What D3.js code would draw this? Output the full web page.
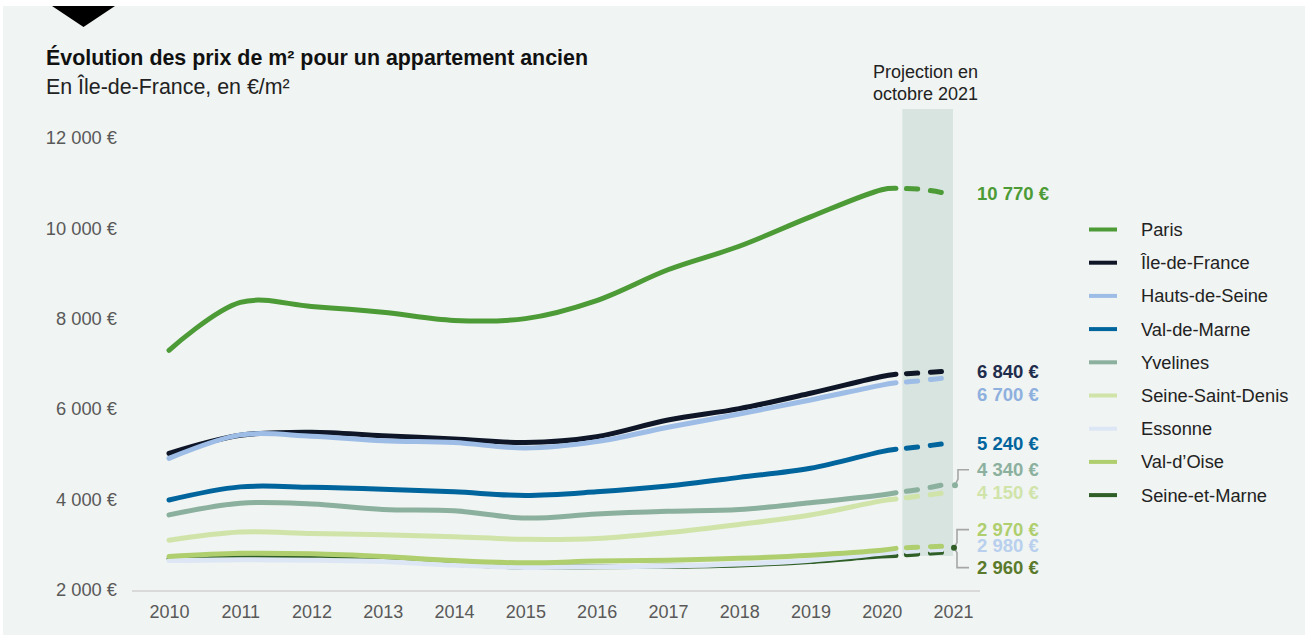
<!DOCTYPE html>
<html><head><meta charset="utf-8">
<script src="https://cdn.jsdelivr.net/npm/d3@7"></script>
<style>
html,body{margin:0;padding:0;background:#fff;}
svg{display:block;font-family:"Liberation Sans",Arial,sans-serif;}
</style></head>
<body>
<svg id="chart" width="1305" height="635"></svg>
<script>
// ---------- DATA ----------
const years = [2010, 2011, 2012, 2013, 2014, 2015, 2016, 2017, 2018, 2019, 2020];
const projYears = [2020.2, 2020.55, 2020.9];
const tickYears = [2010, 2011, 2012, 2013, 2014, 2015, 2016, 2017, 2018, 2019, 2020, 2021];
const yTicks = [2000, 4000, 6000, 8000, 10000, 12000];

const seriesNames = ["Paris", "Île-de-France", "Hauts-de-Seine", "Val-de-Marne", "Yvelines",
  "Seine-Saint-Denis", "Essonne", "Val-d’Oise", "Seine-et-Marne"];

const paris          = [7300, 8360, 8270, 8140, 7960, 8000, 8400, 9080, 9600, 10250, 10850];
const ileDeFrance    = [5020, 5420, 5490, 5410, 5340, 5260, 5390, 5760, 6010, 6350, 6720];
const hautsDeSeine   = [4910, 5430, 5400, 5300, 5260, 5140, 5280, 5600, 5890, 6200, 6530];
const valDeMarne     = [3990, 4280, 4270, 4230, 4170, 4090, 4170, 4300, 4490, 4690, 5060];
const yvelines       = [3660, 3920, 3900, 3780, 3750, 3590, 3680, 3740, 3780, 3930, 4100];
const seineSaintDenis= [3100, 3280, 3250, 3220, 3180, 3120, 3140, 3270, 3450, 3660, 3970];
const essonne        = [2650, 2670, 2660, 2630, 2550, 2500, 2515, 2530, 2575, 2660, 2810];
const valDOise       = [2740, 2810, 2800, 2740, 2650, 2600, 2640, 2660, 2700, 2770, 2880];
const seineEtMarne   = [2690, 2710, 2700, 2660, 2570, 2505, 2515, 2525, 2555, 2630, 2750];

const parisProj           = [10880, 10860, 10770];
const ileDeFranceProj     = [6770, 6800, 6840];
const hautsDeSeineProj    = [6580, 6630, 6690];
const valDeMarneProj      = [5110, 5170, 5240];
const yvelinesProj        = [4150, 4230, 4340];
const seineSaintDenisProj = [4010, 4080, 4150];
const essonneProj         = [2840, 2870, 2900];
const valDOiseProj        = [2920, 2950, 2970];
const seineEtMarneProj    = [2760, 2800, 2840];

const endLabels = [10770, 6840, 6700, 5240, 4340, 4150, 2980, 2970, 2960];

// ---------- STYLE ----------
const lineColors  = ["#4c9b36", "#0e1628", "#9dbce6", "#00649d", "#8bb09e", "#d0e4a9", "#dde6f4", "#afce6e", "#2f5f26"];
const labelColors = ["#4c9b36", "#1f2d4d", "#8eb0de", "#00649d", "#8bb09e", "#d0e4a9", "#b8d0ee", "#afce6e", "#5b7a2b"];

const actual = [paris, ileDeFrance, hautsDeSeine, valDeMarne, yvelines, seineSaintDenis, essonne, valDOise, seineEtMarne];
const proj = [parisProj, ileDeFranceProj, hautsDeSeineProj, valDeMarneProj, yvelinesProj, seineSaintDenisProj, essonneProj, valDOiseProj, seineEtMarneProj];

const series = seriesNames.map((name, i) => ({
  name, i,
  color: lineColors[i],
  solid: years.map((yr, k) => ({x: yr, v: actual[i][k]})).concat([{x: projYears[0], v: proj[i][0]}]),
  dashed: projYears.map((yr, k) => ({x: yr, v: proj[i][k]})),
  label: endLabels[i]
}));

// ---------- CHART ----------
const svg = d3.select("#chart");
svg.append("rect").attr("x", 0).attr("y", 0).attr("width", 1305).attr("height", 635).attr("fill", "#ffffff");
svg.append("rect").attr("x", 3).attr("y", 6).attr("width", 1302).attr("height", 629).attr("fill", "#f0f4f2");
svg.append("path").attr("d", "M52,6 L115,6 L83.5,27 Z").attr("fill", "#000");

svg.append("text").attr("x", 46).attr("y", 65).attr("font-size", 21.4).attr("font-weight", "bold").attr("fill", "#111")
  .text("Évolution des prix de m² pour un appartement ancien");
svg.append("text").attr("x", 46).attr("y", 94).attr("font-size", 21.4).attr("fill", "#222")
  .text("En Île-de-France, en €/m²");

const x = d3.scaleLinear().domain([2010, 2021]).range([169, 953]);
const y = d3.scaleLinear().domain([2000, 12000]).range([590, 137.7]);

// projection band
svg.append("rect")
  .attr("x", x(2020.29)).attr("width", x(2021) - x(2020.29))
  .attr("y", 109).attr("height", 556 - 109)
  .attr("fill", "#d7e4df");

const projTxt = svg.append("text").attr("font-size", 18).attr("fill", "#222").attr("text-anchor", "middle");
projTxt.append("tspan").attr("x", 925.5).attr("y", 78).text("Projection en");
projTxt.append("tspan").attr("x", 925.5).attr("y", 100).text("octobre 2021");

// axes
const fmtNum = v => d3.format(",")(v).replace(/,/g, " ");
const yAxis = d3.axisLeft(y).tickValues(yTicks).tickSize(0).tickPadding(0).tickFormat(v => fmtNum(v) + " €");
const gy = svg.append("g").attr("transform", "translate(117,0)").call(yAxis);
gy.select(".domain").remove();
gy.selectAll("text").attr("font-size", 18.3).attr("fill", "#595959").attr("font-family", "Liberation Sans, Arial, sans-serif");

svg.append("line").attr("x1", 132).attr("x2", 980).attr("y1", 591).attr("y2", 591)
  .attr("stroke", "#d9d9d9").attr("stroke-width", 2);
const xAxis = d3.axisBottom(x).tickValues(tickYears).tickSize(0).tickPadding(14).tickFormat(d3.format("d"));
const gx = svg.append("g").attr("transform", "translate(0,591)").call(xAxis);
gx.select(".domain").remove();
gx.selectAll("text").attr("font-size", 18).attr("fill", "#595959").attr("font-family", "Liberation Sans, Arial, sans-serif");

// lines
const line = d3.line().x(d => x(d.x)).y(d => y(d.v)).curve(d3.curveCatmullRom.alpha(0.5));
const drawOrder = [8, 0, 1, 2, 3, 4, 5, 6, 7];
const gl = svg.append("g");
drawOrder.forEach(i => {
  const s = series[i];
  gl.append("path").attr("d", line(s.solid)).attr("fill", "none")
    .attr("stroke", s.color).attr("stroke-width", 5).attr("stroke-linecap", "round").attr("stroke-linejoin", "round");
  gl.append("path").attr("d", line(s.dashed)).attr("fill", "none")
    .attr("stroke", s.color).attr("stroke-width", 5).attr("stroke-linecap", "round")
    .attr("stroke-dasharray", "11 13").attr("stroke-dashoffset", 13.5);
});

// end labels (stacked to avoid collisions)
const rowH = 23;
const lblY = series.map(s => y(s.i === 6 ? s.label : s.dashed[2].v));
lblY[2] = lblY[1] + rowH;
lblY[4] = lblY[5] - rowH;
lblY[7] = lblY[6] - 16;
lblY[8] = lblY[6] + 22;
series.forEach((s, i) => {
  svg.append("text").attr("x", 977).attr("y", lblY[i]).attr("dy", "0.35em")
    .attr("font-size", 18.5).attr("font-weight", "bold").attr("fill", labelColors[i])
    .text(fmtNum(s.label) + " €");
});

// connectors
const grey = "#a6a6a6";
const yvEnd = y(yvelinesProj[2]) + 1;
svg.append("path").attr("d", `M955,${yvEnd} L958,${yvEnd - 6} L958,${lblY[4]} L969,${lblY[4]}`)
  .attr("fill", "none").attr("stroke", grey).attr("stroke-width", 1.6);
svg.append("circle").attr("cx", 955).attr("cy", yvEnd).attr("r", 3).attr("fill", "#8bb09e");

const bEnd = y(valDOiseProj[2]) + 1.5;
svg.append("path").attr("d", `M969,${lblY[7]} L957,${lblY[7]} L957,${bEnd - 5} L954,${bEnd} L957,${bEnd + 5} L957,${lblY[8]} L969,${lblY[8]}`)
  .attr("fill", "none").attr("stroke", grey).attr("stroke-width", 1.6);
svg.append("circle").attr("cx", 954).attr("cy", bEnd).attr("r", 3).attr("fill", "#2f5f26");

// legend
const lg = svg.append("g");
series.forEach((s, i) => {
  const yy = 229.5 + i * 33.2;
  lg.append("line").attr("x1", 1089).attr("x2", 1117).attr("y1", yy).attr("y2", yy)
    .attr("stroke", s.color).attr("stroke-width", 4);
  lg.append("text").attr("x", 1141).attr("y", yy).attr("dy", "0.35em").attr("font-size", 18.3).attr("fill", "#222").text(s.name);
});
</script>
</body></html>
